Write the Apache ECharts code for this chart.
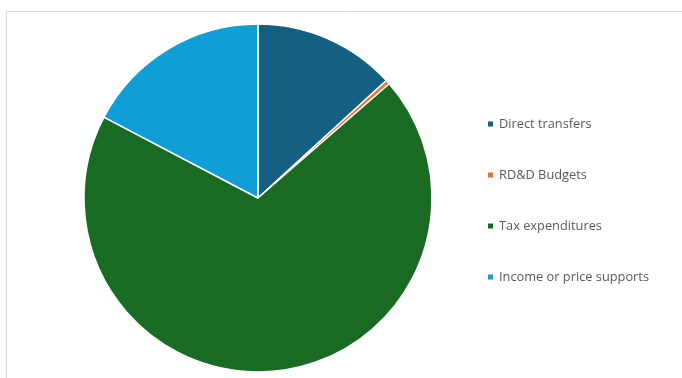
<!DOCTYPE html>
<html><head><meta charset="utf-8">
<script src="https://cdn.jsdelivr.net/npm/echarts@6/dist/echarts.min.js"></script>
<style>html,body{margin:0;padding:0;background:#fff}#c{width:682px;height:378px}</style>
</head><body><div id="c"></div>
<script>
const categories = ["Direct transfers", "RD&D Budgets", "Tax expenditures", "Income or price supports"];
const values = [13.2, 0.4, 69.1, 17.3];
const colors = ["#156082", "#E97132", "#196B24", "#0F9ED5"];

const chart = echarts.init(document.getElementById('c'), null, {renderer: 'canvas'});
chart.setOption({
  animation: false,
  backgroundColor: '#fff',
  color: colors,
  graphic: [{
    type: 'rect', silent: true, z: -1,
    shape: {x: 6.5, y: 11.5, width: 700, height: 400},
    style: {fill: 'none', stroke: '#d9d9d9', lineWidth: 1}
  }],
  legend: {
    orient: 'vertical', left: 481, top: 111,
    itemWidth: 7, itemHeight: 7, itemGap: 35,
    icon: 'rect',
    data: categories,
    textStyle: {color: '#595959', fontSize: 12.8, fontFamily: 'Open Sans', lineHeight: 16}
  },
  series: [{
    type: 'pie',
    center: [258, 198],
    radius: [0, 174],
    startAngle: 90,
    clockwise: true,
    label: {show: false},
    labelLine: {show: false},
    itemStyle: {borderColor: '#fff', borderWidth: 1.5},
    emphasis: {disabled: true},
    data: categories.map((n, i) => ({name: n, value: values[i]}))
  }]
});
</script></body></html>
